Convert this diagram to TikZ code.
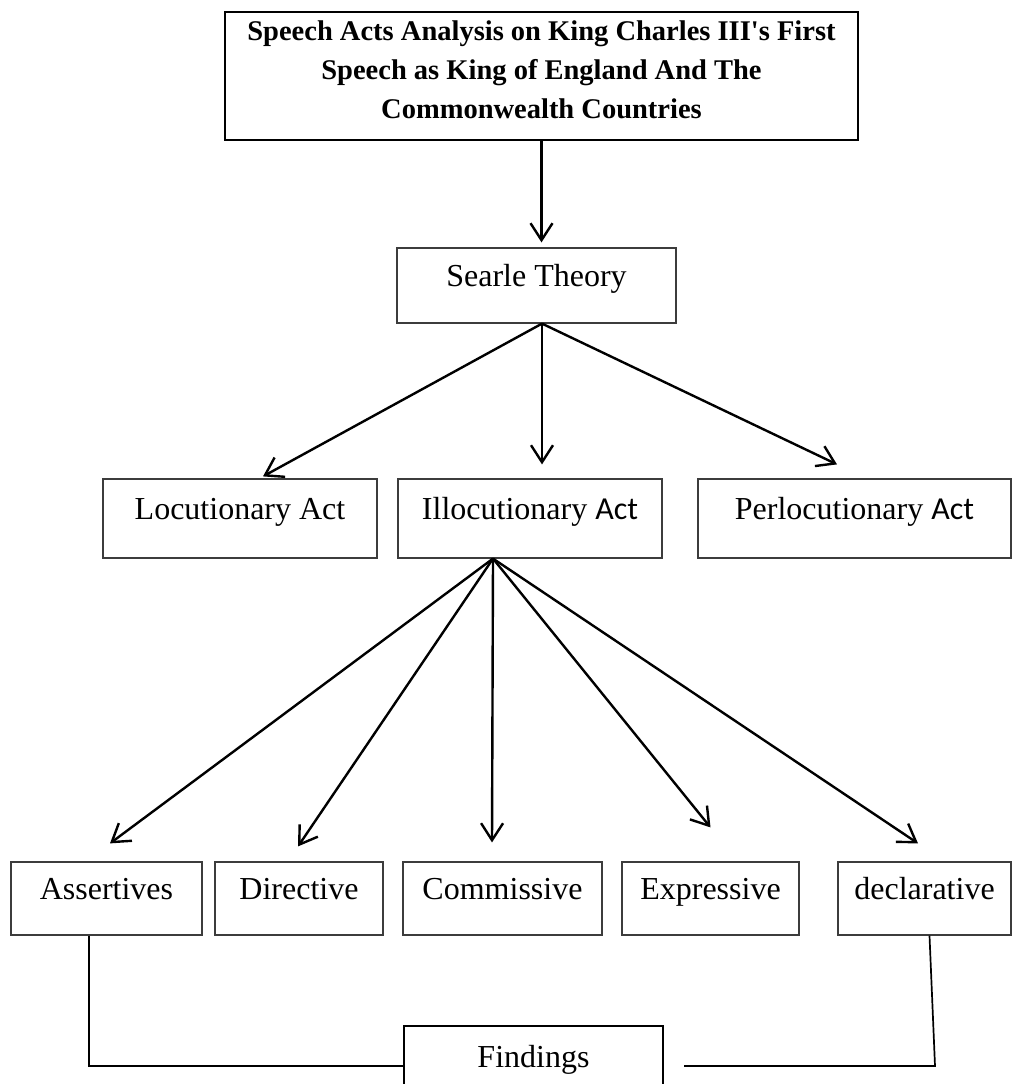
\documentclass[tikz,border=0pt]{standalone}
\usepackage{fontspec}
\setmainfont{Liberation Serif}
\newfontfamily\actfont{Carlito}
\usetikzlibrary{arrows.meta}
\definecolor{frame1}{HTML}{3c3c3c}

\begin{document}
\begin{tikzpicture}[x=1pt, y=-1pt, align=center,
  box/.style={draw=frame1, line width=1.2pt, inner sep=0pt, font=\fontsize{32}{38}\selectfont, text height=23pt, text depth=21pt},
  head/.style={draw=black, line width=1.3pt, inner sep=0pt, font=\bfseries\fontsize{28.5}{39}\selectfont},
  arr/.style={line width=2.4pt, -{Straight Barb[length=17pt, width=22pt]}},
  link/.style={line width=1.7pt}]
\clip (0,0) rectangle (1013,1084);

\node[head, minimum width=633pt, minimum height=128pt] (title) at (541.5,76) {Speech Acts Analysis on King Charles III\textquotesingle s First\\ Speech as King of England And The\\ Commonwealth Countries\rule[-13pt]{0pt}{13pt}};

\node[box, minimum width=279pt, minimum height=75pt] (searle) at (536.5,285.5) {Searle Theory};

\node[box, minimum width=274pt, minimum height=79pt] (locut) at (240,518.5) {Locutionary Act};
\node[box, minimum width=264pt, minimum height=79pt] (illoc) at (530,518.5) {Illocutionary {\actfont Act}};
\node[box, minimum width=313pt, minimum height=79pt] (perloc) at (854.5,518.5) {Perlocutionary {\actfont Act}};

\node[box, minimum width=191pt, minimum height=73pt] (assert) at (106.5,898.5) {Assertives};
\node[box, minimum width=168pt, minimum height=73pt] (direct) at (299,898.5) {Directive};
\node[box, minimum width=199pt, minimum height=73pt] (commis) at (502.5,898.5) {Commissive};
\node[box, minimum width=177pt, minimum height=73pt] (express) at (710.5,898.5) {Expressive};
\node[box, minimum width=173pt, minimum height=73pt] (declar) at (924.5,898.5) {declarative};

\node[box, draw=black, line width=2pt, minimum width=259pt, minimum height=80pt] (find) at (533.5,1066) {Findings};

\draw[arr] (title.south) -- ([yshift=5pt]searle.north -| title.south);

\draw[arr] ([xshift=5.5pt]searle.south) -- ([xshift=23pt, yshift=2pt]locut.north);
\draw[arr] ([xshift=5.5pt]searle.south) -- ([xshift=12pt, yshift=14pt]illoc.north);
\draw[arr] ([xshift=5.5pt]searle.south) -- ([xshift=-17.5pt, yshift=14pt]perloc.north);

\foreach \t/\dx/\dy in {assert/3.5/18, direct/-1/15, commis/-10.5/19, express/0/34, declar/-6.5/18}
  \draw[arr] ([xshift=-37pt]illoc.south) -- ([xshift=\dx pt, yshift=\dy pt]\t.north);

\draw[link] ([xshift=-17.5pt]assert.south) |- (find.west);
\coordinate (turn) at (935,1066);
\draw[link] ([xshift=20pt]find.east) -- (turn) -- ([xshift=5pt]declar.south);
\end{tikzpicture}
\end{document}
